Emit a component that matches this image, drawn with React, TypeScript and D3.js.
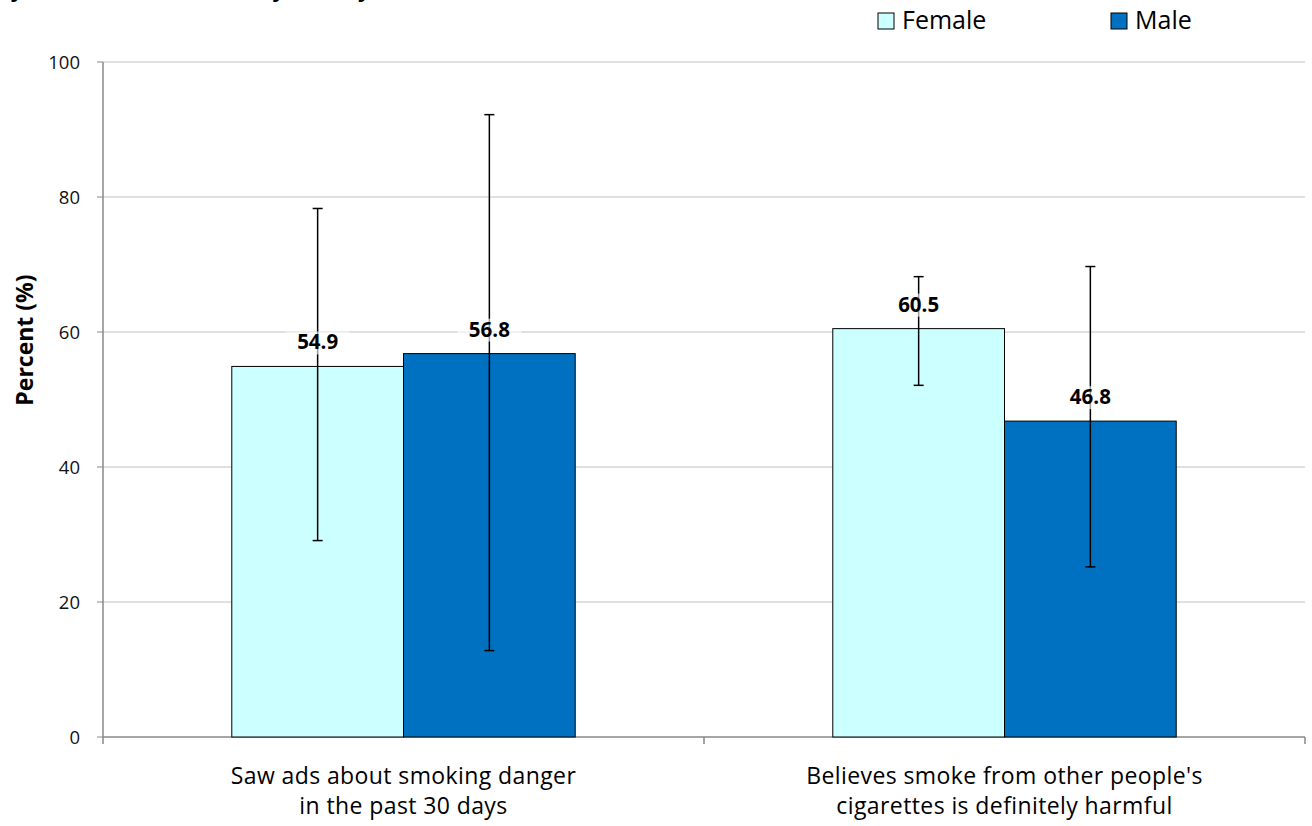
import React from "react";
import * as d3 from "d3";

const categories = [
  ["Saw ads about smoking danger", "in the past 30 days"],
  ["Believes smoke from other people's", "cigarettes is definitely harmful"],
];
const seriesNames = ["Female", "Male"];
const colors = ["#ccffff", "#0070c0"];
const femaleValues = [54.9, 60.5];
const maleValues = [56.8, 46.8];
const femaleLow = [29.1, 52.1];
const femaleHigh = [78.3, 68.2];
const maleLow = [12.8, 25.2];
const maleHigh = [92.2, 69.7];
const yTicks = [0, 20, 40, 60, 80, 100];

const W = 1312, H = 826;
const left = 103, right = 1305, top = 62, bottom = 737;

export default function App() {
  const x0 = d3.scaleBand<number>().domain([0, 1]).range([left, right]).paddingInner(0).paddingOuter(0);
  const y = d3.scaleLinear().domain([0, 100]).range([bottom, top]);
  const x1 = d3.scaleBand<number>().domain([0, 1]).range([0, x0.bandwidth()]).paddingInner(0).paddingOuter(0.75);
  const values = [femaleValues, maleValues];
  const lows = [femaleLow, maleLow];
  const highs = [femaleHigh, maleHigh];
  const font = "'Open Sans', sans-serif";

  return (
    <svg width={W} height={H} style={{ position: "absolute", left: 0, top: 0, background: "#fff" }}>
      <text x={0} y={-3} fontFamily={font} fontSize={22} fontWeight="bold" fontStyle="italic" fill="#000">
        by Gender, Saudi Arabia, by country
      </text>
      {yTicks.map((t) => (
        <g key={t}>
          {t > 0 && <line x1={left} x2={right} y1={y(t)} y2={y(t)} stroke="#c0c0c0" strokeWidth={1} />}
          <line x1={left - 6} x2={left} y1={y(t)} y2={y(t)} stroke="#888" />
          <text x={left - 23} y={y(t) + 6.5} textAnchor="end" fontFamily={font} fontSize={18.5} fill="#111">
            {t}
          </text>
        </g>
      ))}
      <line x1={left} x2={left} y1={top} y2={bottom} stroke="#888" strokeWidth={1.5} />
      <line x1={left} x2={right} y1={bottom} y2={bottom} stroke="#888" strokeWidth={1.5} />
      {[0, 1, 2].map((i) => {
        const xx = left + i * x0.bandwidth();
        return <line key={i} x1={xx} x2={xx} y1={bottom} y2={bottom + 7} stroke="#888" strokeWidth={1.5} />;
      })}
      <text transform={`translate(33,340) rotate(-90)`} textAnchor="middle" fontFamily={font} fontWeight="bold" fontSize={23} fill="#000">
        Percent (%)
      </text>
      {categories.map((c, ci) =>
        [0, 1].map((si) => {
          const bx = x0(ci)! + x1(si)!;
          const bw = x1.bandwidth();
          const v = values[si][ci];
          return (
            <rect key={`${ci}-${si}`} x={bx} y={y(v)} width={bw} height={bottom - y(v)} fill={colors[si]} stroke="#000" strokeWidth={1} />
          );
        })
      )}
      {categories.map((c, ci) =>
        [0, 1].map((si) => {
          const cx = x0(ci)! + x1(si)! + x1.bandwidth() / 2;
          return (
            <g key={`e${ci}-${si}`} stroke="#000" strokeWidth={1.5}>
              <line x1={cx} x2={cx} y1={y(lows[si][ci])} y2={y(highs[si][ci])} />
              <line x1={cx - 5} x2={cx + 5} y1={y(lows[si][ci])} y2={y(lows[si][ci])} />
              <line x1={cx - 5} x2={cx + 5} y1={y(highs[si][ci])} y2={y(highs[si][ci])} />
            </g>
          );
        })
      )}
      {categories.map((c, ci) =>
        [0, 1].map((si) => {
          const cx = x0(ci)! + x1(si)! + x1.bandwidth() / 2;
          const v = values[si][ci];
          const ty = y(v) - 17;
          return (
            <g key={`l${ci}-${si}`}>
              <rect x={cx - 32} y={ty - 18} width={64} height={23} fill="#fff" opacity={0.6} />
              <text x={cx} y={ty} textAnchor="middle" fontFamily={font} fontWeight="bold" fontSize={20.5} fill="#000">
                {v.toFixed(1)}
              </text>
            </g>
          );
        })
      )}
      {categories.map((c, ci) => {
        const cx = x0(ci)! + x0.bandwidth() / 2;
        return (
          <text key={`c${ci}`} textAnchor="middle" fontFamily={font} fontSize={23} letterSpacing={0.4} fill="#000">
            <tspan x={cx} y={784}>{c[0]}</tspan>
            <tspan x={cx} y={814}>{c[1]}</tspan>
          </text>
        );
      })}
      {seriesNames.map((s, i) => {
        const lx = [878, 1111][i];
        return (
          <g key={s}>
            <rect x={lx} y={13} width={16} height={16} fill={colors[i]} stroke="#000" strokeWidth={1} />
            <text x={lx + 24} y={29} fontFamily={font} fontSize={25} fill="#000">{s}</text>
          </g>
        );
      })}
    </svg>
  );
}
